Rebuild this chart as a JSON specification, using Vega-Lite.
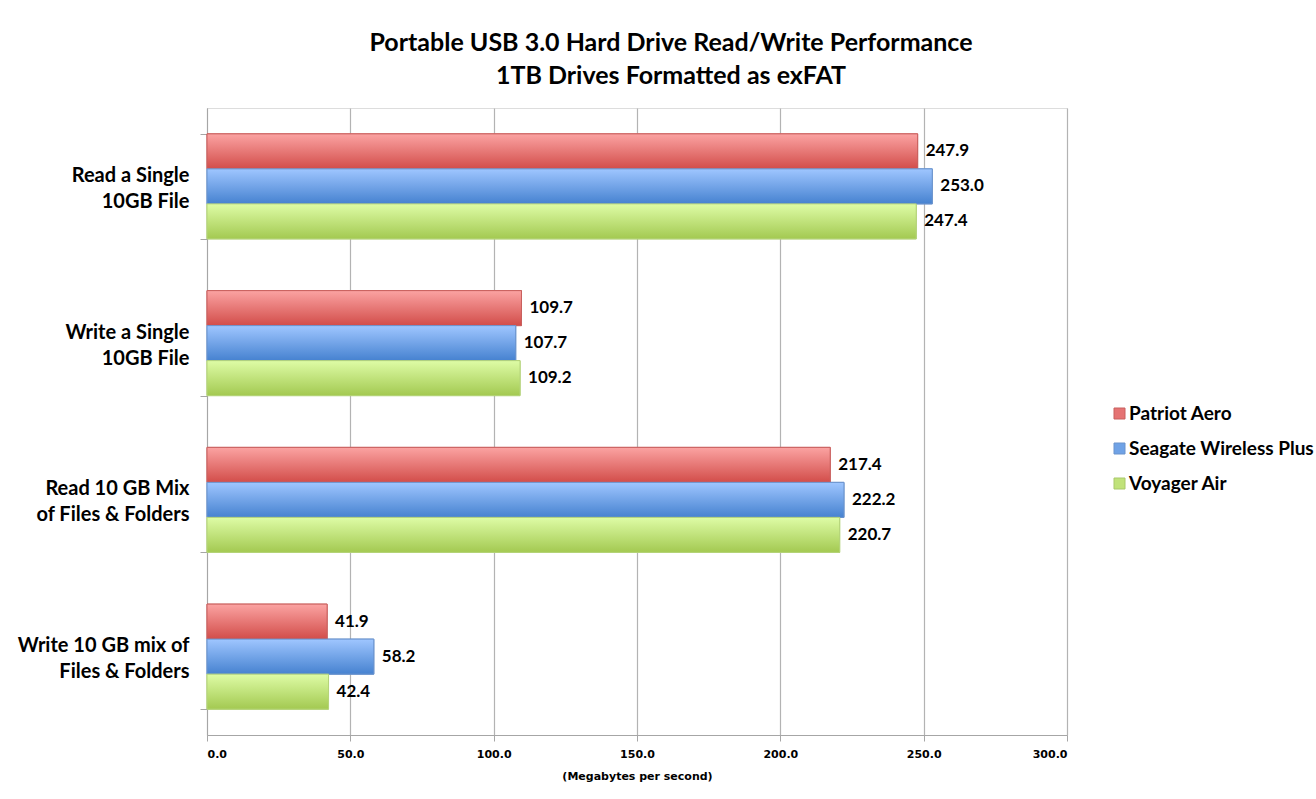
{
  "$schema": "https://vega.github.io/schema/vega-lite/v6.json",
  "width": 860,
  "height": 627,
  "autosize": {"type": "none"},
  "padding": {"left": 207, "top": 108, "right": 249, "bottom": 64},
  "background": "white",
  "title": {
    "text": ["Portable USB 3.0 Hard Drive Read/Write Performance", "1TB Drives Formatted as exFAT"],
    "font": "Lato",
    "fontSize": 25,
    "fontWeight": "bold",
    "lineHeight": 33,
    "anchor": "middle",
    "dx": 34,
    "offset": 9,
    "color": "#000000"
  },
  "data": {
    "values": [
      {"task": "Read a Single\n10GB File", "drive": "Patriot Aero", "mbps": 247.9},
      {"task": "Read a Single\n10GB File", "drive": "Seagate Wireless Plus", "mbps": 253.0},
      {"task": "Read a Single\n10GB File", "drive": "Voyager Air", "mbps": 247.4},
      {"task": "Write a Single\n10GB File", "drive": "Patriot Aero", "mbps": 109.7},
      {"task": "Write a Single\n10GB File", "drive": "Seagate Wireless Plus", "mbps": 107.7},
      {"task": "Write a Single\n10GB File", "drive": "Voyager Air", "mbps": 109.2},
      {"task": "Read 10 GB Mix\nof Files & Folders", "drive": "Patriot Aero", "mbps": 217.4},
      {"task": "Read 10 GB Mix\nof Files & Folders", "drive": "Seagate Wireless Plus", "mbps": 222.2},
      {"task": "Read 10 GB Mix\nof Files & Folders", "drive": "Voyager Air", "mbps": 220.7},
      {"task": "Write 10 GB mix of\nFiles & Folders", "drive": "Patriot Aero", "mbps": 41.9},
      {"task": "Write 10 GB mix of\nFiles & Folders", "drive": "Seagate Wireless Plus", "mbps": 58.2},
      {"task": "Write 10 GB mix of\nFiles & Folders", "drive": "Voyager Air", "mbps": 42.4}
    ]
  },
  "encoding": {
    "x": {
      "field": "mbps",
      "type": "quantitative",
      "scale": {"domain": [0, 300], "nice": false, "zero": true},
      "axis": {
        "values": [0, 50, 100, 150, 200, 250, 300],
        "format": ".1f",
        "title": "(Megabytes  per second)",
        "titleFont": "DejaVu Sans",
        "titleFontSize": 11,
        "titleFontWeight": "bold",
        "titleColor": "#000000",
        "titlePadding": 11,
        "labelFont": "DejaVu Sans",
        "labelFontSize": 11,
        "labelFontWeight": "bold",
        "labelColor": "#000000",
        "labelPadding": 7,
        "tickSize": 6,
        "tickColor": "#a6a6a6",
        "domainColor": "#a6a6a6",
        "grid": true,
        "gridColor": "#b3b3b3",
        "gridWidth": 1.2
      }
    },
    "y": {
      "field": "task",
      "type": "nominal",
      "sort": null,
      "scale": {"paddingInner": 0.33, "paddingOuter": 0.165},
      "axis": {
        "title": null,
        "labelExpr": "split(datum.label, '\\n')",
        "labelFont": "Lato",
        "labelFontSize": 20,
        "labelFontWeight": "bold",
        "labelColor": "#000000",
        "labelLineHeight": 26,
        "labelAlign": "right",
        "labelPadding": 11,
        "labelOffset": -11,
        "tickBand": "extent",
        "tickSize": 7,
        "tickColor": "#a6a6a6",
        "domainColor": "#a6a6a6",
        "grid": false
      }
    },
    "yOffset": {
      "field": "drive",
      "type": "nominal",
      "scale": {"domain": ["Patriot Aero", "Seagate Wireless Plus", "Voyager Air"], "paddingInner": 0, "paddingOuter": 0}
    }
  },
  "layer": [
    {
      "mark": {"type": "bar", "strokeWidth": 1},
      "encoding": {
        "color": {
          "field": "drive",
          "type": "nominal",
          "scale": {"domain": ["Patriot Aero", "Seagate Wireless Plus", "Voyager Air"], "range": ["#e57373", "#6fa2e6", "#c0e27a"]},
          "legend": {
            "title": null,
            "orient": "none",
            "legendX": 903,
            "legendY": 296,
            "symbolType": "square",
            "symbolSize": 121,
            "symbolStrokeWidth": 1,
            "labelFont": "Lato",
            "labelFontSize": 19,
            "labelFontWeight": "bold",
            "labelColor": "#000000",
            "labelOffset": 0,
            "rowPadding": 15,
            "labelLimit": 400
          }
        },
        "stroke": {
          "field": "drive",
          "type": "nominal",
          "scale": {"domain": ["Patriot Aero", "Seagate Wireless Plus", "Voyager Air"], "range": ["#c8605e", "#6b93cc", "#a9c86a"]},
          "legend": null
        }
      }
    },
    {
      "transform": [{"filter": "datum.drive === 'Patriot Aero'"}],
      "mark": {
        "type": "bar",
        "stroke": "#c8605e",
        "strokeWidth": 1,
        "color": {"gradient": "linear", "x1": 0, "y1": 0, "x2": 0, "y2": 1, "stops": [{"offset": 0, "color": "#fba3a2"}, {"offset": 1, "color": "#d24d4a"}]}
      }
    },
    {
      "transform": [{"filter": "datum.drive === 'Seagate Wireless Plus'"}],
      "mark": {
        "type": "bar",
        "stroke": "#6b93cc",
        "strokeWidth": 1,
        "color": {"gradient": "linear", "x1": 0, "y1": 0, "x2": 0, "y2": 1, "stops": [{"offset": 0, "color": "#9fc6ff"}, {"offset": 1, "color": "#4682d0"}]}
      }
    },
    {
      "transform": [{"filter": "datum.drive === 'Voyager Air'"}],
      "mark": {
        "type": "bar",
        "stroke": "#b5d47a",
        "strokeWidth": 1,
        "color": {"gradient": "linear", "x1": 0, "y1": 0, "x2": 0, "y2": 1, "stops": [{"offset": 0, "color": "#defca6"}, {"offset": 1, "color": "#a3c951"}]}
      }
    },
    {
      "mark": {"type": "text", "align": "left", "baseline": "middle", "dx": 8, "font": "Lato", "fontSize": 17, "fontWeight": "bold", "color": "#000000"},
      "encoding": {
        "text": {"field": "mbps", "type": "quantitative", "format": ".1f"}
      }
    }
  ]
}
